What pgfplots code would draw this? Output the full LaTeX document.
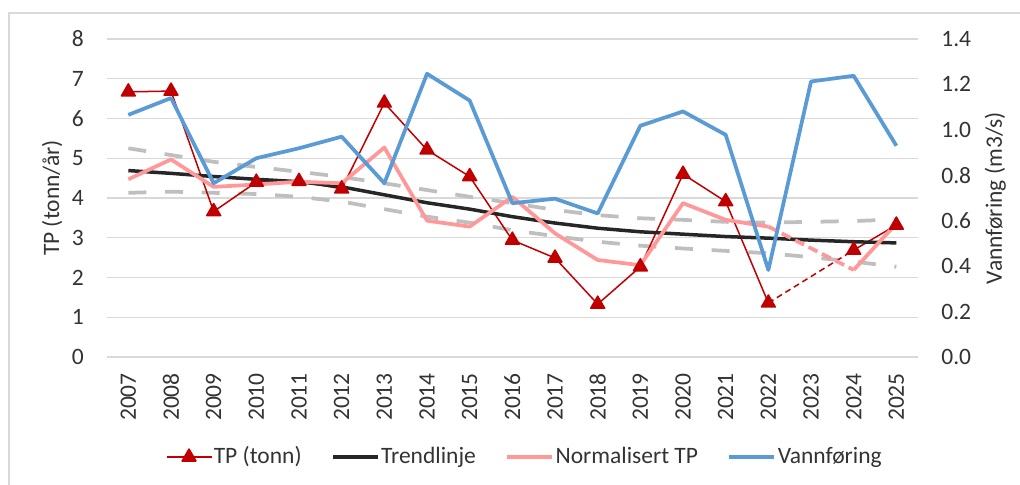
\documentclass[border=0pt]{standalone}
\usepackage{pgfplots}
\pgfplotsset{compat=1.18}
\usepackage{fontspec}
\setmainfont{Carlito}
\definecolor{tpred}{HTML}{C00000}
\definecolor{trendblack}{HTML}{262626}
\definecolor{normpink}{HTML}{FF9999}
\definecolor{flowblue}{HTML}{5B9BD5}
\definecolor{bandgray}{HTML}{BFBFBF}
\definecolor{gridgray}{HTML}{D9D9D9}
\definecolor{txtgray}{HTML}{333333}

\pgfplotstableread{
x tp trend norm upper lower
0 6.67 4.69 4.47 5.25 4.13
1 6.69 4.62 4.97 5.08 4.16
2 3.66 4.54 4.28 4.91 4.13
3 4.40 4.47 4.34 4.78 4.10
4 4.42 4.41 4.41 4.66 4.03
5 4.23 4.28 4.37 4.53 3.91
6 6.39 4.08 5.27 4.37 3.72
7 5.21 3.88 3.43 4.20 3.53
8 4.54 3.72 3.28 4.03 3.38
9 2.94 3.53 4.03 3.87 3.19
10 2.49 3.37 3.11 3.70 3.04
11 1.33 3.24 2.44 3.57 2.90
12 2.27 3.15 2.31 3.49 2.80
13 4.60 3.09 3.87 3.45 2.73
14 3.91 3.03 3.45 3.40 2.67
15 1.36 2.99 3.28 3.38 2.61
16 nan 2.94 nan 3.40 2.51
17 2.69 2.90 2.19 3.42 2.40
18 3.32 2.87 3.36 3.46 2.27
}\leftdata

\pgfplotstableread{
x flow
0 1.066
1 1.140
2 0.765
3 0.875
4 0.919
5 0.970
6 0.765
7 1.247
8 1.129
9 0.677
10 0.697
11 0.632
12 1.018
13 1.081
14 0.978
15 0.383
16 1.213
17 1.238
18 0.930
}\flowdata

\begin{document}
\fontsize{23.5bp}{28bp}\selectfont
\begin{tikzpicture}
\path[use as bounding box] (0,0) rectangle (1020bp,485bp);
\draw[gridgray, line width=1.5bp] (9bp,0bp) -- (9bp,472bp) -- (1020bp,472bp);
\pgfplotsset{
  common/.style={
    at={(107bp,128bp)}, anchor=south west,
    scale only axis, width=810.7bp, height=318bp,
    xmin=-0.5, xmax=18.5,
    axis line style={draw=none},
    major tick length=0pt,
    tick label style={text=txtgray, inner sep=0pt},
    label style={text=txtgray},
    /pgf/number format/assume math mode=true,
  }
}
\begin{axis}[
  common,
  ymin=0, ymax=8,
  ytick={0,1,2,3,4,5,6,7,8},
  ymajorgrids,
  grid style={gridgray, line width=1.2bp},
  xtick={0,...,18},
  xticklabels={2007,2008,2009,2010,2011,2012,2013,2014,2015,2016,2017,2018,2019,2020,2021,2022,2023,2024,2025},
  xticklabel style={rotate=90, anchor=east},
  xticklabel shift=16bp,
  yticklabel shift=23bp,
  ylabel={TP (tonn/år)},
  ylabel style={at={(axis description cs:-0.0678,0.5)}, anchor=center},
  unbounded coords=jump,
  legend columns=4,
  legend style={at={(axis description cs:0.515,-0.3145)}, anchor=center, draw=none, fill=none,
    inner sep=0pt, text=txtgray,
    nodes={inner xsep=1.5bp, inner ysep=0pt},
    /tikz/every even column/.append style={column sep=28bp}},
  legend cell align=left,
  legend image code/.code={\draw[mark repeat=2,mark phase=2,#1] plot coordinates {(0bp,0bp) (22.5bp,0bp) (45bp,0bp)};},
]
\addplot[bandgray, line width=3.75bp, dash pattern=on 18bp off 18.7bp, forget plot] table[x=x,y=upper]{\leftdata};
\addplot[bandgray, line width=3.75bp, dash pattern=on 18bp off 18.7bp, forget plot] table[x=x,y=lower]{\leftdata};
\addplot[tpred, line width=1.5bp, line join=round, mark=triangle*, mark size=8bp, mark options={solid, fill=tpred}] table[x=x,y=tp]{\leftdata};
\addlegendentry{TP (tonn)}
\addplot[tpred, line width=1.5bp, dash pattern=on 6bp off 4bp, forget plot] coordinates {(15,1.36) (17,2.69)};
\addplot[trendblack, line width=3.5bp, line join=round] table[x=x,y=trend]{\leftdata};
\addlegendentry{Trendlinje}
\addplot[normpink, line width=3.75bp, line join=round] table[x=x,y=norm]{\leftdata};
\addlegendentry{Normalisert TP}
\addplot[normpink, line width=3.75bp, dash pattern=on 10bp off 5bp, forget plot] coordinates {(15,3.28) (17,2.19)};
\addlegendimage{flowblue, line width=3.75bp}
\addlegendentry{Vannføring}
\end{axis}
\begin{axis}[
  common,
  ymin=0, ymax=1.4,
  axis y line*=right,
  hide x axis,
  ytick={0,0.2,0.4,0.6,0.8,1,1.2,1.4},
  yticklabels={0.0,0.2,0.4,0.6,0.8,1.0,1.2,1.4},
  yticklabel shift=23.5bp,
  ylabel={Vannføring (m3/s)},
  ylabel style={at={(axis description cs:1.0957,0.5)}, anchor=center},
]
\addplot[flowblue, line width=3.75bp, line join=round] table[x=x,y=flow]{\flowdata};
\end{axis}
\end{tikzpicture}
\end{document}
